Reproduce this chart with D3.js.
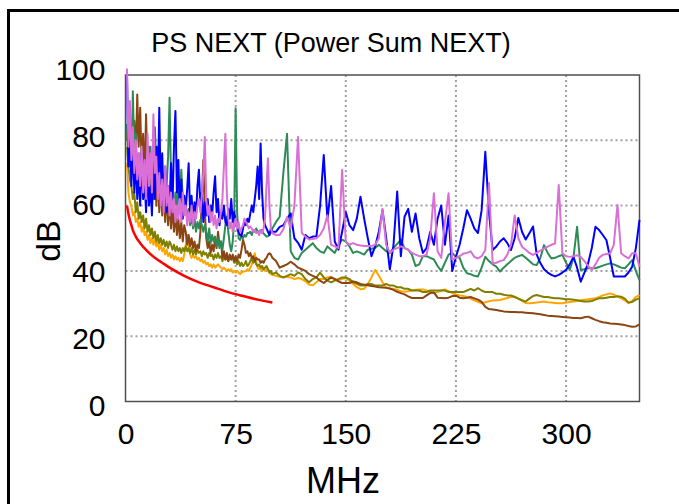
<!DOCTYPE html>
<html><head><meta charset="utf-8">
<script src="https://cdn.jsdelivr.net/npm/d3@7"></script>
<style>html,body{margin:0;padding:0;background:#fff;} svg{display:block;font-family:"Liberation Sans",Arial,sans-serif;}</style>
</head><body><svg id="chart" width="679" height="504"></svg>
<script>
// ---------- data ----------
const freqMHz = [
1,2,3,4,5,6,7,8,9,10, 11,12,13,14,15,16,17,18,19,20, 21,22,23,24,25,26,27,28,29,30,
31,32,33,34,35,36,37,38,39,40, 41,42,43,44,45,46,47,48,49,50, 51,52,53,54,55,56,57,58,59,60,
61,62,63,64,65,66,67,68,69,70, 71,72,73,74,75,76,77,78,79,80, 81,82,83,84,85,86,87,88,89,90,
91,92,93,94,95,96,97,98,99,100,
102.5,105,107.5,110,112.5,115,117.5,120,122.5,125, 127.5,130,132.5,135,137.5,140,142.5,145,147.5,150,
152.5,155,157.5,160,162.5,165,167.5,170,172.5,175, 177.5,180,182.5,185,187.5,190,192.5,195,197.5,200,
202.5,205,207.5,210,212.5,215,217.5,220,222.5,225, 227.5,230,232.5,235,237.5,240,242.5,245,247.5,250,
252.5,255,257.5,260,262.5,265,267.5,270,272.5,275, 277.5,280,282.5,285,287.5,290,292.5,295,297.5,300,
302.5,305,307.5,310,312.5,315,317.5,320,322.5,325, 327.5,330,332.5,335,337.5,340,342.5,345,347.5,350];

const oliveDb = [
78,72,68,66,62,64,58,61,56,58, 55,57,53,56,52,54,51,53,50,52, 49,51,48.5,50,48,49.5,47.5,49,47,49,
48,46.5,48,46,47.5,46,47,45.5,47,46, 47.5,46,47,45.5,47,45,46.5,45,46.5,45.5, 46,44.5,46,45,45.5,44,45.5,44.5,45,43.5,
45,44,45.5,44,44.5,43,44.5,43.5,44,43, 44.5,43.5,44,42.5,43,42,43,41.5,42.5,41.5, 42,43,41.5,42,43,44,42.5,43.5,42,41.5,
42,41,41.5,40.5,41,41.5,40.5,39.5,40,39,
39.5,38.5,38,38.5,39,38.5,39.5,39,37.5,36.5, 37.5,38,39.5,38,37,36.5,37,37.5,38,38,
37.5,36.5,36,35.5,35.5,36,36,35.5,35.5,35.5, 36,35.5,35.5,35,35,34.5,34.5,34,34,34,
33.5,33.5,34,34,34,34,34,33.5,33.5,33.5, 33.5,33.5,34,34.5,34,34.7,34,33.5,33.5,33.5,
33,33,32.7,32.5,32.5,32,31.5,31,30.6,31.5, 32.3,32.6,32.3,32,32,31.8,31.6,31.6,31.5,31.3,
31.3,31.2,31,30.8,30.6,30.6,30.8,31.2,31.6,31.6, 31.8,32,32,32.2,32.1,31.5,30.3,30.5,31.2,31.6];

const orangeDb = [
73,64,61,60,57,58,55,56,53.5,55, 52,53.5,51,52,49.5,51,48.5,50,48,49.5, 47.5,49,46.5,48,46,47,45,46.5,44.5,45.5,
44,45,43.5,44.5,43.5,44,43,44,43,45, 48,51,47,45,44,45,44,44.5,43.5,44, 43,43.5,42.5,43,42,42.5,41.5,42,41,42,
41,41.5,42,41.5,41,40.5,41,40.5,40,40.5, 40,40.5,39.5,40,39.5,40,39.5,39,39.5,39.8, 39.8,40,40.5,40,41,42,43.5,45.4,43,41,
40.5,41,40,40.5,40,40.5,40.5,39.5,39,38.8,
38.5,38.2,38,38.2,38,37.5,37.8,37.5,36.8,35.8, 35.6,36.5,37.5,37.5,38,38.2,37.5,37.2,37.5,37.8,
37,36,35,34.4,34.5,36,38,40.3,38.5,36.5, 35,34.6,34.5,34.2,33.8,33.6,33.8,34,34.2,34.3,
34.3,34,33.6,33.2,33.5,34,34.3,33.8,33.2,32.8, 32.5,32.3,32,31.5,31,30.5,30.1,30.4,30.7,30.9,
31,31.1,31.4,31.7,32,32.1,31.5,30.8,30.2,30.1, 30.2,30.3,30.5,30.6,30.4,30.3,30.2,30.1,30.1,30.3,
30.5,30.6,30.8,31,31.2,31.3,31.5,31.6,32,32.5, 32.8,33.1,32.7,32.2,31.6,31,30.1,30.8,32,32.6];

const brownDb = [
80,88,72,84,70,86,75,94,78,90, 72,82,68,88,70,78,64,74,62,72, 60,70,58,68,57,66,55,64,54,62,
53,60,52,58,51,56,50,55,49,54, 52,48,51,47.5,50,47,49,46,48,47, 52,62,74,58,50,47,49,45.5,48,46,
50,47,52,48,49,44,46,43.5,45.5,43, 45,43.5,45,43,44.5,43,45,44,46.5,49.5, 48,45.5,46,44.5,45.5,44,44.5,43,44,43.5,
43.5,42.5,43,42.5,43.5,44,45,45.4,45,44,
43,41,41.5,42,42.8,42,41,40.5,40,39, 38.5,38,37,36.3,37.2,38,37.5,36.8,36.3,36.3,
36.3,36.8,36.5,36,35.8,35.6,35.4,35.2,35,34.9, 34.8,34.6,34.2,33.6,33.2,32.8,32.2,31.7,31.7,31.7,
31.7,32.5,33.2,33.4,31.8,31.7,31.6,31.8,32.3,32.4, 31.8,31.6,31.8,32,31.6,31.2,30.5,29,28.3,28.2,
28,27.8,27.6,27.5,27.4,27.4,27.3,27.3,27.2,27.1, 27,26.9,26.7,26.5,26.3,26.2,26.1,26,25.9,25.8,
25.7,25.6,25.6,25.5,25.8,26,25.5,25,24.6,24.3, 24.1,23.9,23.8,23.7,23.6,23.4,23.1,22.9,23,23.6];

const greenDb = [
85,72,90,70,95,75,82,68,76,65, 72,63,70,62,74,64,78,66,80,84, 72,78,64,70,62,68,60,66,75,93,
68,62,58,64,60,66,62,71,62,58, 60,56,59,54,57,53,56,52,55,53, 55.6,54,52,54,52,49,53,48.5,51,49,
50.5,47.5,50,47,49,46.5,50,54,56.6,52, 48,46,49,56,89.8,58,50,49.5,50.6,50, 51,50.5,51.6,51.6,52,51,52.5,52,53,52,
52,52.5,52.5,51.5,51,50.5,50.6,51,52,53,
55,56.6,70,82,46,44,43.5,45.5,46.5,47.5, 48.5,47,46,45.5,47.5,46.5,45.5,48,49.6,49,
47.5,45.5,46,45.5,45,46.5,46.8,47,48,47, 46,45.5,47,48.3,49.6,47,46.5,45,41.5,42,
44.5,44.5,44,43.5,41.5,40,42.5,45,45.5,44.3, 44,41,39.3,39,38.5,38.3,41,44.3,43,42,
41.3,39.8,41,42,43,44,44.5,44.9,44,43, 42,41.8,44,47.9,45.5,43.8,44,44.5,44.9,42.5,
40.3,44,53.5,40.3,40.5,40.8,40.8,40.8,41.2,41.6, 42,42.3,42,41.5,41,40.8,42,43.3,40,37.2];

const blueDb = [
101,72,86,66,80,64,75,62,70,60, 76,62,68,58,72,60,66,57,74,62, 78,64,90,63,76,60,72,58,66,61,
73,60,78,89,64,74,58,68,56,63, 59,65,73,57,63,55,61,57,66,71, 59,64,55,61,57,62,55,60,57,64,
69,58,62,54,58,56,60,55,54,59, 56,62,55,58,55.6,53,52,51,50.6,53, 55,54,56,55,57.6,60,58,62,66,72,
62,79,64,56,54,53,52,51,53,52,
52,53.5,54,56,57.6,50,48.6,46.5,51,50, 50.5,50.6,60,75.5,55.6,66,49,46.5,52,58,
54,52.5,56,62.7,56,50,44.5,47.5,52,58.6, 50,40.5,48,64.3,44.5,56.6,59,52,57.6,50,
45.5,47,52,48,56,60,48,57,40,44.3, 48,53,58.6,56,53,51.6,58.6,76.5,58,46.4,
47.5,49,50,48.5,46.4,50,56.2,52,49.6,51.5, 53.6,45,42.4,40.5,39.5,38.8,38.3,38.8,39.5,40.3,
42,44.3,41,36.7,39.5,42.3,47,53.5,52.5,51, 49.4,44,38.3,38.3,38.3,38.3,39.5,41.3,46.9,55.6];

const pinkDb = [
102,78,92,74,84,70,80,68,76,66, 78,64,74,62,82,66,76,64,88,70, 75,62,70,60,68,58,72,60,66,57,
64,58,62,55,60,56,62,55,64,57, 60,54,58,55,60,54,58,56,60,62, 58,63,70,81,62,57,60,55,58,54,
57,53,56,55,58,62,72,82,64,56, 53,55,52,54,56,53,55,52,53,54, 56,55,54,53,53.6,53,52,52.5,51.6,52,
51,52.5,51.5,53,56,66,74.5,60,53,51.5,
51,51,52.8,56.5,53,60,81,51.6,50.5,49.6, 49.8,50,51,53,57,48,47.5,47,71,49,
48,48.5,48,47.8,47.6,47.6,47.6,48,50,59, 48,45.5,46.5,47,47.5,47,46.5,45.5,45,44.5,
44.5,45,50,63.8,46,44,55,63.8,43.5,44, 44.5,45.3,45.5,46,44.3,43.8,44.5,46.4,66.9,42.3,
42.5,43,43.3,45,48,57,50,47.4,46.5,45.5, 44.9,45.5,46.2,46.8,47.4,48,48.4,66.3,45.4,44.5,
44.3,44.5,44.8,44.3,43,41.5,40.3,42,44,44.9, 45.2,45.4,48,60.2,45.4,44.5,43.8,45.4,45.4,41.3];

const limitFreq = [1,2,3,4,5,7,10,15,20,25,30,40,50,60,70,80,90,100];
const limitDb   = [60,57.5,55.5,54,52.5,50.5,48.5,46,44,42.5,41,38.5,36.5,35,33.5,32.3,31.2,30.3];

const xTicks = [0, 75, 150, 225, 300];
const yTicks = [0, 20, 40, 60, 80, 100];
const titleText = "PS NEXT (Power Sum NEXT)";
const xTitle = "MHz";
const yTitle = "dB";

const seriesList = [
  {name: "orange", values: orangeDb, color: "#FFA500"},
  {name: "olive",  values: oliveDb,  color: "#808000"},
  {name: "brown",  values: brownDb,  color: "#8B4513"},
  {name: "green",  values: greenDb,  color: "#2E8B57"},
  {name: "blue",   values: blueDb,   color: "#0000FF"},
  {name: "pink",   values: pinkDb,   color: "#DA70D6"}
];

// ---------- drawing ----------
const svg = d3.select("#chart");
const P = {left: 125.5, right: 639.5, top: 75, bottom: 401.5};
const x = d3.scaleLinear().domain([0, 350]).range([P.left, P.right]);
const y = d3.scaleLinear().domain([0, 100]).range([P.bottom, P.top]);
const yLab = d3.scaleLinear().domain([0, 100]).range([406, 70]);

// outer frame
svg.append("rect").attr("x", 8.5).attr("y", 10.5).attr("width", 720).attr("height", 540)
  .attr("fill", "none").attr("stroke", "#000").attr("stroke-width", 3);

// grid
const grid = svg.append("g").attr("stroke", "#a0a0a0").attr("stroke-width", 2).attr("stroke-dasharray", "2,3");
grid.selectAll("line.h").data(yTicks.filter(d => d > 0 && d < 100)).join("line")
  .attr("x1", P.left).attr("x2", P.right).attr("y1", d => y(d)).attr("y2", d => y(d));
grid.selectAll("line.v").data(xTicks.filter(d => d > 0)).join("line")
  .attr("y1", P.top).attr("y2", P.bottom).attr("x1", d => x(d)).attr("x2", d => x(d));

// plot frame
svg.append("rect").attr("x", P.left).attr("y", P.top).attr("width", P.right - P.left).attr("height", P.bottom - P.top)
  .attr("fill", "none").attr("stroke", "#505050").attr("stroke-width", 1.5);

// series
const line = d3.line().x(d => x(d[0])).y(d => y(d[1]));
seriesList.forEach(s => {
  svg.append("path").datum(freqMHz.map((f, i) => [f, s.values[i]]))
    .attr("d", line).attr("fill", "none").attr("stroke", s.color)
    .attr("stroke-width", 2).attr("stroke-linejoin", "round");
});
svg.append("path").datum(limitFreq.map((f, i) => [f, limitDb[i]]))
  .attr("d", d3.line().x(d => x(d[0])).y(d => y(d[1])).curve(d3.curveMonotoneX))
  .attr("fill", "none").attr("stroke", "#FF0000").attr("stroke-width", 2.5);

// axes labels
const yAxis = svg.append("g").attr("transform", `translate(${P.left},0)`)
  .call(d3.axisLeft(yLab).tickValues(yTicks).tickSize(0).tickPadding(20).tickFormat(d3.format("d")));
yAxis.select(".domain").remove();
yAxis.selectAll("text").attr("font-size", 30).attr("font-family", "Liberation Sans, Arial, sans-serif").attr("fill", "#000");

const xAxis = svg.append("g").attr("transform", `translate(0,${P.bottom})`)
  .call(d3.axisBottom(x).tickValues(xTicks).tickSize(0).tickPadding(21).tickFormat(d3.format("d")));
xAxis.select(".domain").remove();
xAxis.selectAll("text").attr("font-size", 30).attr("font-family", "Liberation Sans, Arial, sans-serif").attr("fill", "#000");

// titles
svg.append("text").attr("x", 331).attr("y", 52).attr("text-anchor", "middle")
  .attr("font-size", 27).text(titleText);
svg.append("text").attr("x", 343).attr("y", 493).attr("text-anchor", "middle")
  .attr("font-size", 36).text(xTitle);
svg.append("text").attr("transform", "translate(60,241) rotate(-90)").attr("text-anchor", "middle")
  .attr("font-size", 34).text(yTitle);
</script>
</body></html>
